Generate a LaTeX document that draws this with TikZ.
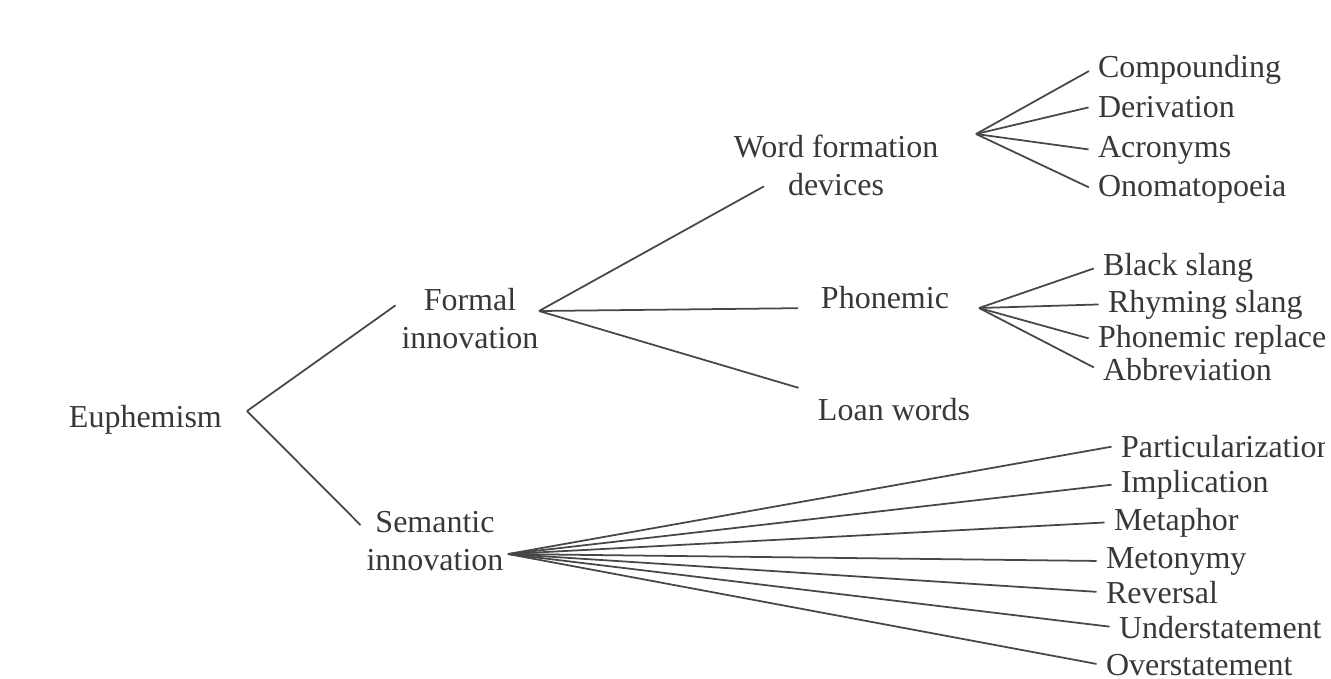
\documentclass[tikz,border=0pt]{standalone}
\usepackage{fontspec}
\setmainfont{Liberation Serif}

\begin{document}
\begin{tikzpicture}[
    x = 0.01cm, y = -0.01cm,
    term/.style = {font = \fontsize{9.1}{10.6}\selectfont, text = black!78, inner sep = 1.5pt},
    cat/.style = {term, align = center, anchor = base},
    leaf/.style = {term, anchor = base west},
    branch/.style = {draw = black!72, line width = 0.5pt},
    ]
    \useasboundingbox (0,0) rectangle (1331,678);
    \clip (0,0) rectangle (1324,678);

    \node[leaf] (eu) at (63,427) {Euphemism};
    \node[cat] (formal) at (470,348) {Formal\\innovation};
    \node[cat] (sem) at (435,570) {Semantic\\innovation};
    \node[cat] (wfd) at (836,195) {Word formation\\devices};
    \node[leaf] (phon) at (815,308) {Phonemic};
    \node[leaf] (loan) at (812,420) {Loan words};

    \node[leaf] (comp) at (1092,77) {Compounding};
    \node[leaf] (deriv) at (1092,117) {Derivation};
    \node[leaf] (acro) at (1092,157) {Acronyms};
    \node[leaf] (onom) at (1092,196) {Onomatopoeia};

    \node[leaf] (black) at (1097,275) {Black slang};
    \node[leaf] (rhym) at (1102,312) {Rhyming slang};
    \node[leaf] (repl) at (1092,347) {Phonemic replacement};
    \node[leaf] (abbr) at (1097,380) {Abbreviation};

    \node[leaf] (part) at (1115,457) {Particularization};
    \node[leaf] (impl) at (1115,492) {Implication};
    \node[leaf] (meta) at (1108,530) {Metaphor};
    \node[leaf] (meto) at (1100,568) {Metonymy};
    \node[leaf] (rev) at (1100,603) {Reversal};
    \node[leaf] (under) at (1113,638) {Understatement};
    \node[leaf] (over) at (1100,675) {Overstatement};

    % fork points
    \coordinate (eu-f) at (247,411);
    \coordinate (formal-f) at (539,311);
    \coordinate (sem-f) at (508,554);
    \coordinate (wfd-f) at (976,134);
    \coordinate (phon-f) at (979,308);

    \path[branch] (eu-f) edge (formal.170) edge (sem.168);
    \path[branch] (formal-f) edge[shorten >= -8.8pt] (wfd.200)
        edge[shorten >= 4.8pt] (phon.base west)
        edge[shorten >= 4pt] (loan.north west);
    \foreach \t in {comp, deriv, acro, onom}
        \path[branch] (wfd-f) edge[shorten >= 1pt] (\t.west);
    \foreach \t in {black, rhym, repl, abbr}
        \path[branch] (phon-f) edge[shorten >= 1pt] (\t.west);
    \foreach \t in {part, impl, meta, meto, rev, under, over}
        \path[branch] (sem-f) edge[shorten >= 1pt] (\t.west);
\end{tikzpicture}
\end{document}
